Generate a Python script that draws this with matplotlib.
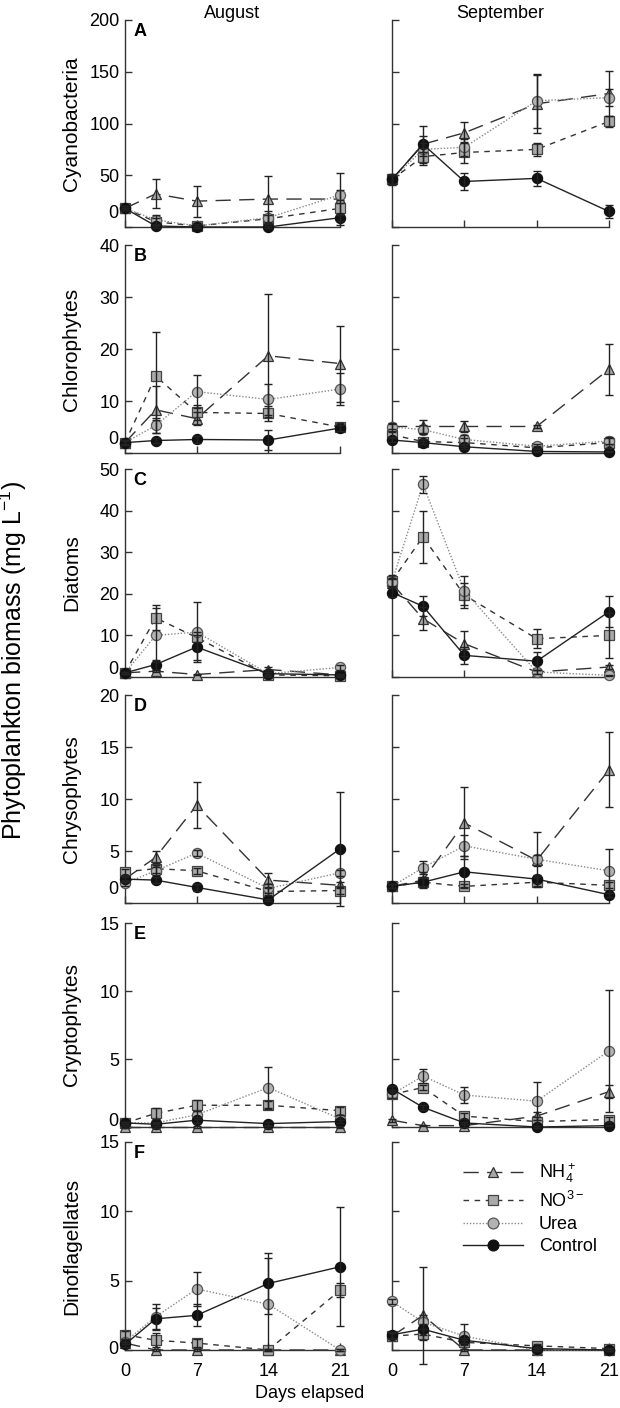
import matplotlib
matplotlib.use("Agg")
import matplotlib.pyplot as plt
import matplotlib.transforms as mtransforms
from matplotlib.lines import Line2D

plt.rcParams['font.family'] = ['Liberation Sans', 'DejaVu Sans']
plt.rcParams['mathtext.fontset'] = 'custom'
plt.rcParams['mathtext.rm'] = 'Liberation Sans'
plt.rcParams['mathtext.it'] = 'Liberation Sans:italic'
plt.rcParams['mathtext.bf'] = 'Liberation Sans:bold'

days = [0, 3, 7, 14, 21]
months = ["August", "September"]
treatments = [r"NH$\mathregular{_4^+}$", r"NO$\mathregular{^{3-}}$", "Urea", "Control"]
groups = ["Cyanobacteria", "Chlorophytes", "Diatoms", "Chrysophytes", "Cryptophytes", "Dinoflagellates"]
panel_letters = ["A", "B", "C", "D", "E", "F"]
y_max = [200, 40, 50, 20, 15, 15]
y_step = [50, 10, 10, 5, 5, 5]
x_ticks = [0, 7, 14, 21]

# order of rows in each list: NH4+, NO3-, Urea, Control
cyano_aug = [[18, 32, 25, 27, 27], [18, 5, 1, 8, 18], [18, 7, 1, 9, 31], [18, 1, 0, 0, 9]]
cyano_aug_err = [[0, 14, 15, 22, 25], [2, 4, 2, 4, 5], [2, 5, 2, 6, 5], [2, 2, 1, 1, 3]]
cyano_sep = [[46, 80, 91, 119, 129], [46, 68, 72, 75, 102], [46, 75, 77, 122, 125], [46, 80, 44, 47, 15]]
cyano_sep_err = [[5, 18, 10, 28, 22], [4, 8, 10, 6, 5], [4, 6, 8, 26, 8], [4, 8, 8, 7, 6]]

chloro_aug = [[2.0, 8.3, 6.6, 18.7, 17.2], [2.0, 14.8, 7.8, 7.6, 5.0], [2.0, 5.3, 11.8, 10.3, 12.3], [2.0, 2.4, 2.6, 2.5, 4.8]]
chloro_aug_err = [[0.5, 4.5, 1.2, 11.8, 7.3], [0.5, 8.5, 1.5, 1.5, 0.8], [0.5, 1.5, 3.2, 3.0, 3.0], [0.3, 0.5, 0.6, 2.0, 0.6]]
chloro_sep = [[5.1, 5.1, 5.1, 5.1, 16.1], [3.5, 2.2, 2.0, 1.0, 2.0], [5.0, 4.5, 2.6, 1.3, 2.3], [2.5, 2.0, 1.2, 0.3, 0.2]]
chloro_sep_err = [[0.5, 1.2, 1.0, 0.3, 4.9], [0.5, 0.5, 0.8, 0.3, 1.0], [0.8, 0.8, 0.8, 0.4, 0.5], [0.3, 0.3, 0.4, 0.1, 0.1]]

diatom_aug = [[1.0, 1.4, 0.6, 1.8, 0.5], [1.0, 14.2, 9.5, 0.5, 0.3], [1.0, 10.0, 10.8, 0.8, 2.3], [1.0, 3.0, 7.2, 0.8, 0.5]]
diatom_aug_err = [[0.3, 0.3, 0.2, 0.6, 0.2], [0.3, 3.0, 1.2, 0.3, 0.2], [0.3, 6.5, 7.3, 0.8, 0.5], [0.3, 1.2, 3.0, 0.3, 0.2]]
diatom_sep = [[22.5, 14.0, 8.0, 1.2, 2.4], [23.1, 33.7, 19.7, 9.2, 10.0], [22.9, 46.3, 20.7, 1.2, 0.4], [20.3, 17.0, 5.2, 3.8, 15.7]]
diatom_sep_err = [[1.0, 2.8, 3.0, 0.5, 0.5], [1.5, 6.3, 3.0, 2.3, 5.5], [1.0, 2.0, 3.5, 0.4, 0.2], [1.0, 2.4, 2.0, 2.2, 3.7]]

chryso_aug = [[2.3, 4.4, 9.4, 2.2, 1.7], [3.0, 3.3, 3.1, 1.1, 1.2], [1.9, 3.1, 4.8, 1.4, 2.9], [2.3, 2.2, 1.5, 0.3, 5.2]]
chryso_aug_err = [[0.3, 0.6, 2.2, 0.7, 0.3], [0.3, 0.4, 0.3, 0.3, 0.3], [0.3, 0.4, 0.3, 0.4, 0.3], [0.2, 0.3, 0.3, 0.1, 5.5]]
chryso_sep = [[1.6, 2.2, 7.7, 4.1, 12.8], [1.6, 2.0, 1.6, 2.0, 1.7], [1.6, 3.4, 5.5, 4.2, 3.1], [1.6, 2.0, 3.0, 2.3, 0.8]]
chryso_sep_err = [[0.2, 0.8, 3.5, 0.5, 3.6], [0.2, 0.4, 0.2, 0.5, 0.3], [0.2, 0.6, 1.0, 2.6, 2.1], [0.2, 0.5, 1.5, 0.4, 0.2]]

crypto_aug = [[0.0, 0.0, 0.0, 0.0, 0.0], [0.3, 1.0, 1.6, 1.6, 1.2], [0.3, 0.3, 0.9, 2.9, 0.6], [0.3, 0.2, 0.5, 0.25, 0.4]]
crypto_aug_err = [[0.05, 0.05, 0.05, 0.05, 0.05], [0.1, 0.4, 0.4, 0.3, 0.3], [0.1, 0.1, 0.3, 1.5, 0.3], [0.05, 0.1, 0.2, 0.1, 0.1]]
crypto_sep = [[0.5, 0.1, 0.1, 0.8, 2.6], [2.4, 2.9, 0.8, 0.4, 0.55], [2.4, 3.75, 2.35, 1.9, 5.6], [2.8, 1.45, 0.3, 0.0, 0.1]]
crypto_sep_err = [[0.1, 0.05, 0.1, 0.3, 0.5], [0.3, 0.2, 0.2, 0.3, 0.2], [0.3, 0.5, 0.6, 1.4, 4.5], [0.2, 0.2, 0.1, 0.05, 0.05]]

dino_aug = [[0.5, 0.0, 0.0, 0.0, 0.0], [1.1, 0.7, 0.5, 0.0, 4.3], [0.6, 2.4, 4.4, 3.3, 0.0], [0.4, 2.25, 2.5, 4.8, 6.0]]
dino_aug_err = [[0.1, 0.05, 0.05, 0.05, 0.05], [0.3, 0.5, 0.3, 0.05, 0.5], [0.2, 0.9, 1.2, 3.3, 0.05], [0.2, 0.8, 0.8, 2.2, 4.3]]
dino_sep = [[1.0, 2.5, 0.0, 0.0, 0.0], [1.0, 1.15, 0.55, 0.3, 0.1], [3.5, 2.0, 1.0, 0.0, 0.0], [1.1, 1.5, 0.7, 0.1, 0.0]]
dino_sep_err = [[0.2, 3.5, 0.1, 0.05, 0.05], [0.2, 0.4, 0.2, 0.1, 0.05], [0.2, 0.5, 0.9, 0.05, 0.05], [0.2, 0.4, 0.2, 0.05, 0.05]]

means = [(cyano_aug, cyano_sep), (chloro_aug, chloro_sep), (diatom_aug, diatom_sep),
         (chryso_aug, chryso_sep), (crypto_aug, crypto_sep), (dino_aug, dino_sep)]
errs = [(cyano_aug_err, cyano_sep_err), (chloro_aug_err, chloro_sep_err), (diatom_aug_err, diatom_sep_err),
        (chryso_aug_err, chryso_sep_err), (crypto_aug_err, crypto_sep_err), (dino_aug_err, dino_sep_err)]

styles = [
    dict(marker='^', mfc='#a9a9a9', mec='#333333', color='#333333', ls=(0, (11, 6)), lw=1.0, ms=7),
    dict(marker='s', mfc='#a9a9a9', mec='#444444', color='#333333', ls=(0, (4, 4)), lw=1.0, ms=6.5),
    dict(marker='o', mfc='#b3b3b3', mec='#555555', color='#8a8a8a', ls=(0, (1, 1.3)), lw=1.0, ms=7.3),
    dict(marker='o', mfc='#111111', mec='#111111', color='#222222', ls='-', lw=1.0, ms=7.3),
]

W, H = 620, 1408
fig = plt.figure(figsize=(W / 100, H / 100), dpi=100)

col_x = [(125, 340), (392, 609)]
tops = [20, 245, 469, 695, 923, 1142]
bottoms = [227, 453, 677, 903, 1127, 1350]
zero_shift = [13, 14, 8, 14, 5, 1]

axes = []
for r in range(6):
    for c in range(2):
        x0, x1 = col_x[c]
        ax = fig.add_axes([x0 / W, 1 - bottoms[r] / H, (x1 - x0) / W, (bottoms[r] - tops[r]) / H])
        ax.set_xlim(0, 21)
        ax.set_ylim(0, y_max[r])
        yt = list(range(0, y_max[r] + 1, y_step[r]))
        ax.set_yticks(yt)
        ax.set_xticks(x_ticks)
        for s in ['top', 'right']:
            ax.spines[s].set_visible(False)
        for s in ['left', 'bottom']:
            ax.spines[s].set_color('#333333')
            ax.spines[s].set_linewidth(1.0)
        ax.tick_params(direction='in', length=5, width=1.0, color='#333333', labelsize=13, pad=4)
        ax.tick_params(axis='x', pad=9)
        if c == 0:
            ax.set_yticklabels(['' if v == 0 else str(v) for v in yt])
            tr = mtransforms.blended_transform_factory(ax.transAxes, ax.transData) + \
                mtransforms.ScaledTranslation(0, zero_shift[r] / 100, fig.dpi_scale_trans)
            ax.text(-0.03, 0, '0', transform=tr, ha='right', va='center', fontsize=13)
        else:
            ax.set_yticklabels([])
        if r < 5:
            ax.set_xticklabels([])
        else:
            ax.set_xticklabels([str(v) for v in x_ticks])
        m = means[r][c]
        e = errs[r][c]
        for k in range(4):
            st = styles[k]
            ax.plot(days, m[k], marker=st['marker'], mfc=st['mfc'], mec=st['mec'], ms=st['ms'],
                    mew=0.9, color=st['color'], ls=st['ls'], lw=st['lw'], clip_on=False, zorder=3 + k * 0.1)
            ax.errorbar(days, m[k], yerr=e[k], fmt='none', ecolor='#222222', elinewidth=1.0,
                        capsize=3, capthick=1.0, clip_on=False, zorder=4)
        if c == 0:
            ax.text(0.04, 0.985, panel_letters[r], transform=ax.transAxes, fontsize=13,
                    fontweight='bold', ha='left', va='top')
            fig.text(72 / W, 1 - (tops[r] + bottoms[r]) / 2 / H, groups[r], rotation=90,
                     ha='center', va='center', fontsize=15)
        axes.append(ax)

fig.text((125 + 340) / 2 / W, 1 - 13 / H, months[0], ha='center', va='center', fontsize=13)
fig.text((392 + 609) / 2 / W, 1 - 13 / H, months[1], ha='center', va='center', fontsize=13)
fig.text(310 / W, 1 - 1393 / H, "Days elapsed", ha='center', va='center', fontsize=13)
fig.text(13 / W, 1 - 660 / H, r"Phytoplankton biomass (mg L$\mathregular{^{-1}}$)", rotation=90,
         ha='center', va='center', fontsize=18)

handles = []
for k in range(4):
    st = styles[k]
    handles.append(Line2D([], [], marker=st['marker'], mfc=st['mfc'], mec=st['mec'], ms=st['ms'] + 0.5,
                          mew=0.9, color=st['color'], ls=st['ls'], lw=st['lw']))
axes[-1].legend(handles, treatments, loc='upper right', bbox_to_anchor=(1.02, 0.985), frameon=False,
                fontsize=13, handlelength=3.3, handletextpad=0.9, labelspacing=0.3)

fig.savefig("out.png", dpi=100)
